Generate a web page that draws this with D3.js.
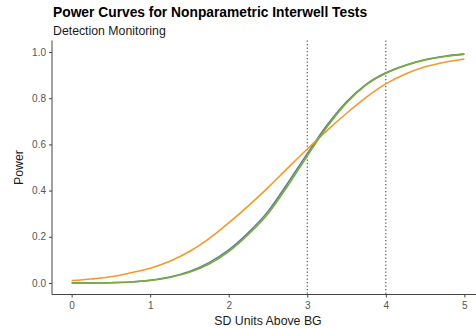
<!DOCTYPE html>
<html>
<head>
<meta charset="utf-8">
<script src="https://cdn.jsdelivr.net/npm/d3@7"></script>
<style>
  html, body { margin: 0; padding: 0; background: #fff; }
  svg { display: block; font-family: "Liberation Sans", Arial, sans-serif; }
</style>
</head>
<body>
<svg id="chart" width="476" height="328"></svg>
<script>
// ---- data ----
const sdUnits = [0, 0.25, 0.5, 0.75, 1, 1.25, 1.5, 1.75, 2, 2.25, 2.5, 2.75, 3, 3.25, 3.5, 3.75, 4, 4.25, 4.5, 4.75, 5];
const powerOrange = [0.010, 0.017, 0.027, 0.044, 0.064, 0.094, 0.136, 0.192, 0.260, 0.334, 0.413, 0.497, 0.580, 0.660, 0.735, 0.804, 0.862, 0.905, 0.936, 0.956, 0.970];
const powerBlue   = [0.000, 0.000, 0.001, 0.004, 0.012, 0.026, 0.050, 0.088, 0.143, 0.218, 0.310, 0.432, 0.560, 0.683, 0.785, 0.860, 0.910, 0.943, 0.967, 0.982, 0.991];
const powerGreen  = [0.000, 0.000, 0.001, 0.004, 0.011, 0.024, 0.046, 0.082, 0.136, 0.210, 0.300, 0.420, 0.550, 0.675, 0.780, 0.858, 0.908, 0.942, 0.966, 0.981, 0.991];
const vlines = [3, 4];
const xTicks = [0, 1, 2, 3, 4, 5];
const yTicks = [0, 0.2, 0.4, 0.6, 0.8, 1.0];
const titleText = "Power Curves for Nonparametric Interwell Tests";
const subtitleText = "Detection Monitoring";
const xLabel = "SD Units Above BG";
const yLabel = "Power";

const series = [
  { name: "blue", values: powerBlue, color: "#5f7f9f" },
  { name: "orange", values: powerOrange, color: "#f7982a" },
  { name: "green", values: powerGreen, color: "#7aad35" }
];

// ---- layout ----
const svg = d3.select("#chart");
const panel = { left: 52, right: 484, top: 40.5, bottom: 294.5 };
const x = d3.scaleLinear().domain([-0.25, 5.25]).range([panel.left, panel.right]);
const y = d3.scaleLinear().domain([-0.05, 1.05]).range([panel.bottom, panel.top]);

// title
svg.append("text").attr("x", 53).attr("y", 17)
  .attr("font-size", 13.8).attr("font-weight", "bold").attr("fill", "#000")
  .text(titleText);
svg.append("text").attr("x", 53).attr("y", 34.5)
  .attr("font-size", 12.3).attr("fill", "#1a1a1a")
  .text(subtitleText);

// vertical dotted lines
svg.selectAll("line.vl").data(vlines).enter().append("line")
  .attr("class", "vl")
  .attr("x1", d => x(d)).attr("x2", d => x(d))
  .attr("y1", panel.top).attr("y2", panel.bottom)
  .attr("stroke", "#444").attr("stroke-width", 1.1)
  .attr("stroke-dasharray", "1.3,2.2");

// curves
const line = d3.line()
  .x((d, i) => x(sdUnits[i]))
  .y(d => y(d))
  .curve(d3.curveMonotoneX);

svg.selectAll("path.curve").data(series).enter().append("path")
  .attr("class", "curve")
  .attr("d", d => line(d.values))
  .attr("fill", "none")
  .attr("stroke", d => d.color)
  .attr("stroke-width", 1.6);

// axes
const xAxis = d3.axisBottom(x).tickValues(xTicks).tickFormat(d3.format("d")).tickSize(3).tickSizeOuter(0);
const yAxis = d3.axisLeft(y).tickValues(yTicks).tickFormat(d3.format(".1f")).tickSize(3).tickSizeOuter(0);

const gx = svg.append("g").attr("transform", `translate(0,${panel.bottom})`).call(xAxis);
const gy = svg.append("g").attr("transform", `translate(${panel.left},0)`).call(yAxis);

[gx, gy].forEach(g => {
  g.select(".domain").attr("stroke", "#444").attr("stroke-width", 1);
  g.selectAll(".tick line").attr("stroke", "#444").attr("stroke-width", 1);
  g.selectAll(".tick text").attr("fill", "#555").attr("font-size", 10)
    .attr("font-family", "'Liberation Sans', Arial, sans-serif");
});
gx.select(".domain").attr("d", `M${panel.left},0H476`);
gy.select(".domain").attr("d", `M0,${panel.top}V${panel.bottom}`);
gx.selectAll(".tick text").attr("dy", "0.95em").attr("y", 5);
gy.selectAll(".tick text").attr("x", -6);

// axis titles
svg.append("text").attr("x", x(2.5)).attr("y", 324.5)
  .attr("text-anchor", "middle").attr("font-size", 12.3).attr("fill", "#1a1a1a")
  .text(xLabel);
svg.append("text")
  .attr("transform", `translate(22.8,${y(0.5)}) rotate(-90)`)
  .attr("text-anchor", "middle").attr("font-size", 12.3).attr("fill", "#1a1a1a")
  .text(yLabel);
</script>
</body>
</html>
